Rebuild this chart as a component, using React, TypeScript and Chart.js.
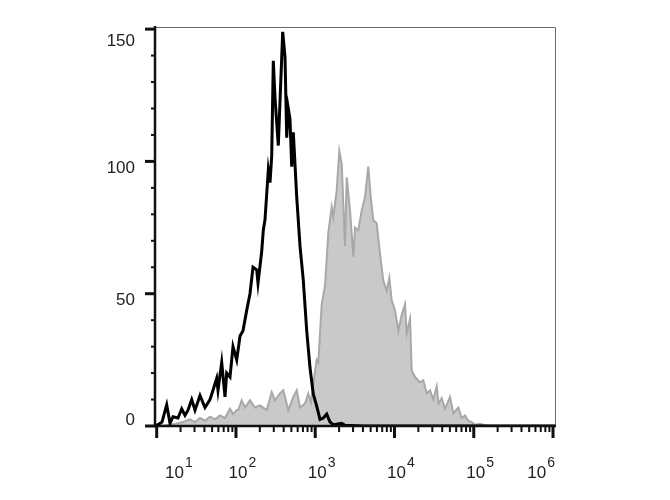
import React, { useEffect, useRef } from "react";
import { Chart, registerables } from "chart.js";
Chart.register(...registerables);

// Isotype / control (black outline)
const blackX = [9.52, 10.38, 11.67, 13.37, 14.72, 16.06, 18.57, 20.68, 22.76, 24.82, 27.65, 30.42, 35.18, 40.68, 47.04, 51.32, 57.15, 59.35, 66.09, 72.74, 76.41, 84.12, 91.77, 102.2, 112.5, 122.7, 136.6, 150.3, 164.1, 182.7, 189.7, 211.3, 221.3, 232.5, 255.9, 268.9, 282.4, 295.9, 310.9, 342.1, 388.8, 415.7, 436.8, 457.5, 480.7, 505.0, 529.0, 584.0, 642.7, 707.3, 780.8, 859.5, 945.8, 1044, 1149, 1265, 1396, 1537, 1691, 2159, 2376, 4000, 1059000];
const blackY = [0, 0.5, 1.5, 8, 1, 3.5, 3, 6.5, 4, 6, 10, 6, 11.5, 7, 10, 13.5, 18, 13.5, 24, 11, 20, 18.5, 30, 25, 34, 36, 43.7, 50, 60, 59, 54, 66, 74, 78, 96.7, 92, 102, 138, 124, 106, 149, 139.5, 109, 120, 116, 98, 111, 86.6, 68, 55, 36, 22, 12, 7.5, 2.5, 3, 4.5, 1.5, 0.5, 1, 0.3, 0, 0];

// Stained sample (grey filled)
const grayX = [9.52, 12.72, 17.02, 21.47, 26.31, 30.42, 35.18, 40.68, 47.04, 54.41, 62.92, 72.74, 84.12, 91.77, 102.2, 107.0, 118.1, 130.0, 150.3, 173.9, 201.1, 244.3, 282.4, 310.9, 359.4, 395.7, 457.5, 529.0, 584.0, 642.7, 743.2, 817.9, 884.7, 945.8, 1044, 1094, 1149, 1207, 1329, 1462, 1614, 1691, 1866, 2013, 2159, 2376, 2496, 2748, 3023, 3176, 3496, 3858, 4247, 4674, 5012, 5406, 5966, 6567, 7227, 7978, 8605, 9226, 10153, 11175, 12336, 13579, 14262, 15703, 16496, 18157, 20989, 23101, 25502, 28071, 30898, 34099, 35931, 39427, 43396, 50176, 55233, 63870, 70487, 77573, 85376, 94231, 103730, 119940, 138680, 160380, 1059000];
const grayY = [0, 0.3, 0.8, 1.5, 2.5, 1.5, 3, 2, 3.5, 2.5, 4, 3, 6.5, 4.5, 6, 6, 9.7, 7, 9.7, 7, 7.8, 6, 12.8, 9.7, 12.3, 13.5, 6, 11, 13.5, 7, 8.5, 12.3, 9, 16, 25, 24, 35, 46, 53, 73, 82.8, 79, 89, 104, 99, 68, 94, 81.5, 64, 75, 74, 81.5, 86.6, 98, 86.6, 77.8, 76.6, 65, 55, 51, 56, 47.5, 43.7, 36, 42, 46, 35, 40.5, 21, 18.5, 16.5, 17.3, 12.3, 13.5, 10, 15, 8.5, 10.5, 6.5, 11, 4.8, 7, 3, 4, 2, 1.5, 0.5, 0.8, 0.3, 0, 0];

const yMajorTicks = [0, 50, 100, 150];
const yMinorStep = 10;
const xDecadeExponents = [1, 2, 3, 4, 5, 6];

const X_MIN = 9.52;
const X_MAX = 1059000;
const Y_MIN = 0;
const Y_MAX = 150.8;

const FONT = '"Liberation Sans", Arial, sans-serif';

const axesPlugin = {
  id: "flowAxes",
  afterDraw(chart: any) {
    const ctx = chart.ctx as CanvasRenderingContext2D;
    const { left, right, top, bottom } = chart.chartArea;
    const xs = chart.scales.x;
    const ys = chart.scales.y;
    ctx.save();

    // thin frame top/right
    ctx.strokeStyle = "#6a6a6a";
    ctx.lineWidth = 1;
    ctx.beginPath();
    ctx.moveTo(left, top + 0.5);
    ctx.lineTo(right + 0.5, top + 0.5);
    ctx.lineTo(right + 0.5, bottom);
    ctx.stroke();

    // main axes
    ctx.strokeStyle = "#111";
    ctx.lineWidth = 2.5;
    ctx.beginPath();
    ctx.moveTo(left, top - 1);
    ctx.lineTo(left, bottom + 1);
    ctx.moveTo(left - 1, bottom);
    ctx.lineTo(right + 1, bottom);
    ctx.stroke();

    // y ticks
    for (let v = Y_MIN; v <= 150; v += yMinorStep) {
      const py = ys.getPixelForValue(v);
      const major = yMajorTicks.includes(v);
      ctx.lineWidth = major ? 3 : 2;
      ctx.beginPath();
      ctx.moveTo(left - (major ? 10 : 4), py);
      ctx.lineTo(left, py);
      ctx.stroke();
    }

    // x ticks
    for (let i = 0; i < xDecadeExponents.length; i++) {
      const e = xDecadeExponents[i];
      const px = xs.getPixelForValue(Math.pow(10, e));
      ctx.lineWidth = 3;
      ctx.beginPath();
      ctx.moveTo(px, bottom);
      ctx.lineTo(px, bottom + 12);
      ctx.stroke();
      if (i < xDecadeExponents.length - 1) {
        for (let k = 2; k <= 9; k++) {
          const mx = xs.getPixelForValue(k * Math.pow(10, e));
          ctx.lineWidth = 2;
          ctx.beginPath();
          ctx.moveTo(mx, bottom);
          ctx.lineTo(mx, bottom + 6);
          ctx.stroke();
        }
      }
    }

    // y labels
    ctx.fillStyle = "#222";
    ctx.font = `17px ${FONT}`;
    ctx.textAlign = "right";
    ctx.textBaseline = "middle";
    for (const v of yMajorTicks) {
      const py = ys.getPixelForValue(v);
      const cy = Math.min(bottom - 6, Math.max(top + 14, py + 7));
      ctx.fillText(String(v), left - 20, cy);
    }

    // x labels: 10 with superscript exponent
    ctx.textBaseline = "alphabetic";
    ctx.textAlign = "left";
    for (const e of xDecadeExponents) {
      const px = xs.getPixelForValue(Math.pow(10, e));
      ctx.font = `17px ${FONT}`;
      const baseW = ctx.measureText("10").width;
      ctx.font = `14px ${FONT}`;
      const supW = ctx.measureText(String(e)).width;
      let x0 = px - baseW / 2 + 2;
      x0 = Math.max(left + 10, Math.min(right - baseW - supW - 1, x0));
      ctx.font = `17px ${FONT}`;
      ctx.fillText("10", x0, bottom + 52);
      ctx.font = `14px ${FONT}`;
      ctx.fillText(String(e), x0 + baseW + 1, bottom + 41);
    }
    ctx.restore();
  },
};

export default function App() {
  const ref = useRef<HTMLCanvasElement | null>(null);
  useEffect(() => {
    if (!ref.current) return;
    const chart = new Chart(ref.current, {
      type: "line",
      data: {
        datasets: [
          {
            label: "control",
            data: blackX.map((x, i) => ({ x, y: blackY[i] })),
            borderColor: "#000",
            borderWidth: 3,
            backgroundColor: "transparent",
            fill: false,
            pointRadius: 0,
            tension: 0,
          },
          {
            label: "stained",
            data: grayX.map((x, i) => ({ x, y: grayY[i] })),
            borderColor: "#a8a8a8",
            borderWidth: 2,
            backgroundColor: "#c9c9c9",
            fill: "origin",
            pointRadius: 0,
            tension: 0,
          },
        ],
      },
      options: {
        animation: false,
        responsive: false,
        devicePixelRatio: 1,
        layout: { padding: { left: 155, right: 115, top: 27, bottom: 74 } },
        plugins: { legend: { display: false }, tooltip: { enabled: false } },
        scales: {
          x: { type: "logarithmic", min: X_MIN, max: X_MAX, display: false },
          y: { type: "linear", min: Y_MIN, max: Y_MAX, display: false },
        },
      },
      plugins: [axesPlugin],
    });
    return () => chart.destroy();
  }, []);
  return (
    <div style={{ position: "fixed", left: 0, top: 0, width: 670, height: 500, background: "#fff" }}>
      <canvas ref={ref} width={670} height={500} />
    </div>
  );
}
